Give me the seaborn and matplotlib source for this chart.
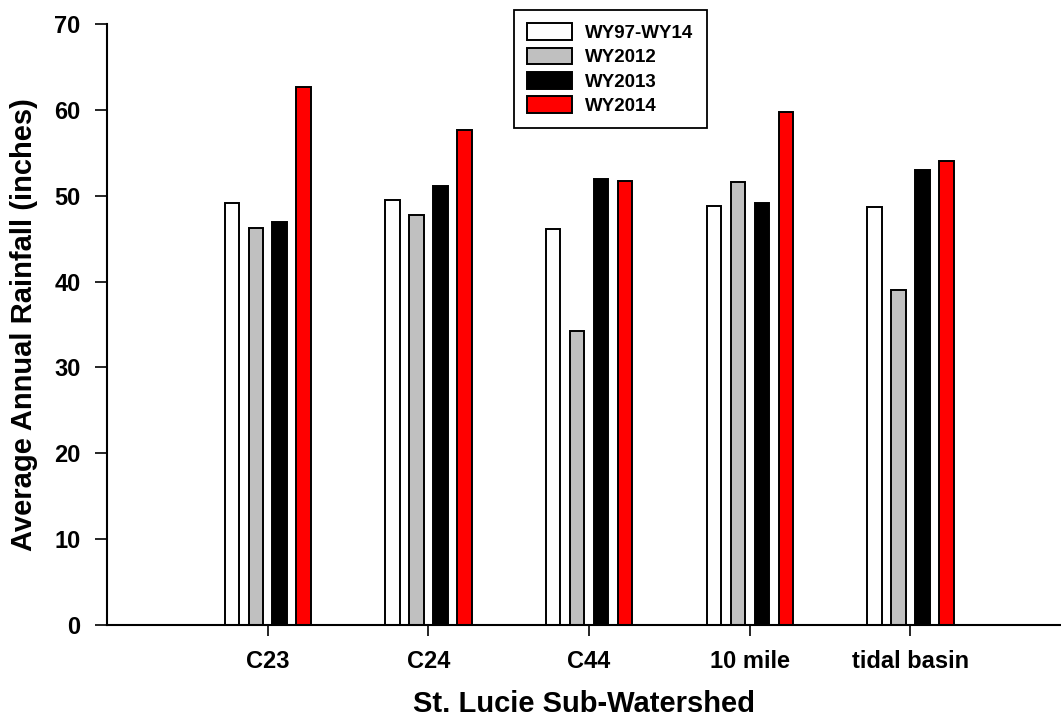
import matplotlib
matplotlib.use("Agg")
import matplotlib.pyplot as plt
import seaborn as sns
import pandas as pd

# ---- data ----
categories = ["C23", "C24", "C44", "10 mile", "tidal basin"]
series_names = ["WY97-WY14", "WY2012", "WY2013", "WY2014"]
wy97_wy14 = [49.2, 49.5, 46.1, 48.8, 48.7]
wy2012 = [46.2, 47.8, 34.3, 51.6, 39.0]
wy2013 = [46.9, 51.1, 52.0, 49.1, 53.0]
wy2014 = [62.7, 57.6, 51.7, 59.8, 54.1]
series_colors = ["#ffffff", "#c0c0c0", "#000000", "#ff0000"]
y_ticks = [0, 10, 20, 30, 40, 50, 60, 70]

values = [wy97_wy14, wy2012, wy2013, wy2014]
rows = []
for name, vals in zip(series_names, values):
    for cat, v in zip(categories, vals):
        rows.append({"Sub-Watershed": cat, "Series": name, "Rainfall": v})
df = pd.DataFrame(rows)

sns.set_style("ticks")
plt.rcParams["font.family"] = ["Liberation Sans", "DejaVu Sans"]
plt.rcParams["font.weight"] = "bold"
plt.rcParams["text.color"] = "black"
plt.rcParams["axes.labelcolor"] = "black"
plt.rcParams["xtick.color"] = "black"
plt.rcParams["ytick.color"] = "black"

W, H = 1061, 719
fig = plt.figure(figsize=(W / 100, H / 100), dpi=100)
ax_left, ax_right, ax_top, ax_bottom = 107, 1061, 24, 625
ax = fig.add_axes([ax_left / W, 1 - ax_bottom / H, (ax_right - ax_left) / W, (ax_bottom - ax_top) / H])

sns.barplot(
    data=df, x="Sub-Watershed", y="Rainfall", hue="Series",
    order=categories, hue_order=series_names,
    palette=series_colors, width=0.597, gap=0.4,
    edgecolor="black", linewidth=1.4, saturation=1.0,
    errorbar=None, ax=ax,
)

cat_spacing = 160.7
ax.set_xlim(-1, -1 + (ax_right - ax_left) / cat_spacing)
ax.set_ylim(0, 70)
ax.set_yticks(y_ticks)

sns.despine(ax=ax, top=True, right=True)
for s in ["left", "bottom"]:
    ax.spines[s].set_linewidth(1.5)
    ax.spines[s].set_color("black")

ax.tick_params(axis="y", direction="out", length=9, width=1.2, pad=10, labelsize=17,
               colors="black", labelcolor="black")
ax.tick_params(axis="x", direction="out", length=8, width=1.2, pad=10, labelsize=17,
               colors="black", labelcolor="black")
for lab in ax.get_xticklabels() + ax.get_yticklabels():
    lab.set_fontweight("bold")
    lab.set_color("black")

ax.set_ylabel("Average Annual Rainfall (inches)", fontsize=21, fontweight="bold",
              labelpad=12, color="black")
ax.set_xlabel("St. Lucie Sub-Watershed", fontsize=21, fontweight="bold",
              labelpad=12, color="black")

handles, labels = ax.get_legend_handles_labels()
if ax.get_legend() is not None:
    ax.get_legend().remove()
leg = fig.legend(
    handles, labels,
    loc="upper left", bbox_to_anchor=(514 / W, 1 - 10 / H),
    bbox_transform=fig.transFigure,
    prop={"size": 13.5, "weight": "bold"},
    frameon=True, fancybox=False, shadow=False, framealpha=1,
    edgecolor="black", borderpad=0.7, handlelength=2.4, handleheight=1.0,
    handletextpad=0.7, labelspacing=0.3, borderaxespad=0,
)
leg.get_frame().set_linewidth(1.3)
for t in leg.get_texts():
    t.set_color("black")
for h in leg.legend_handles:
    h.set_edgecolor("black")
    h.set_linewidth(1.4)

fig.savefig("out.png", dpi=100)
